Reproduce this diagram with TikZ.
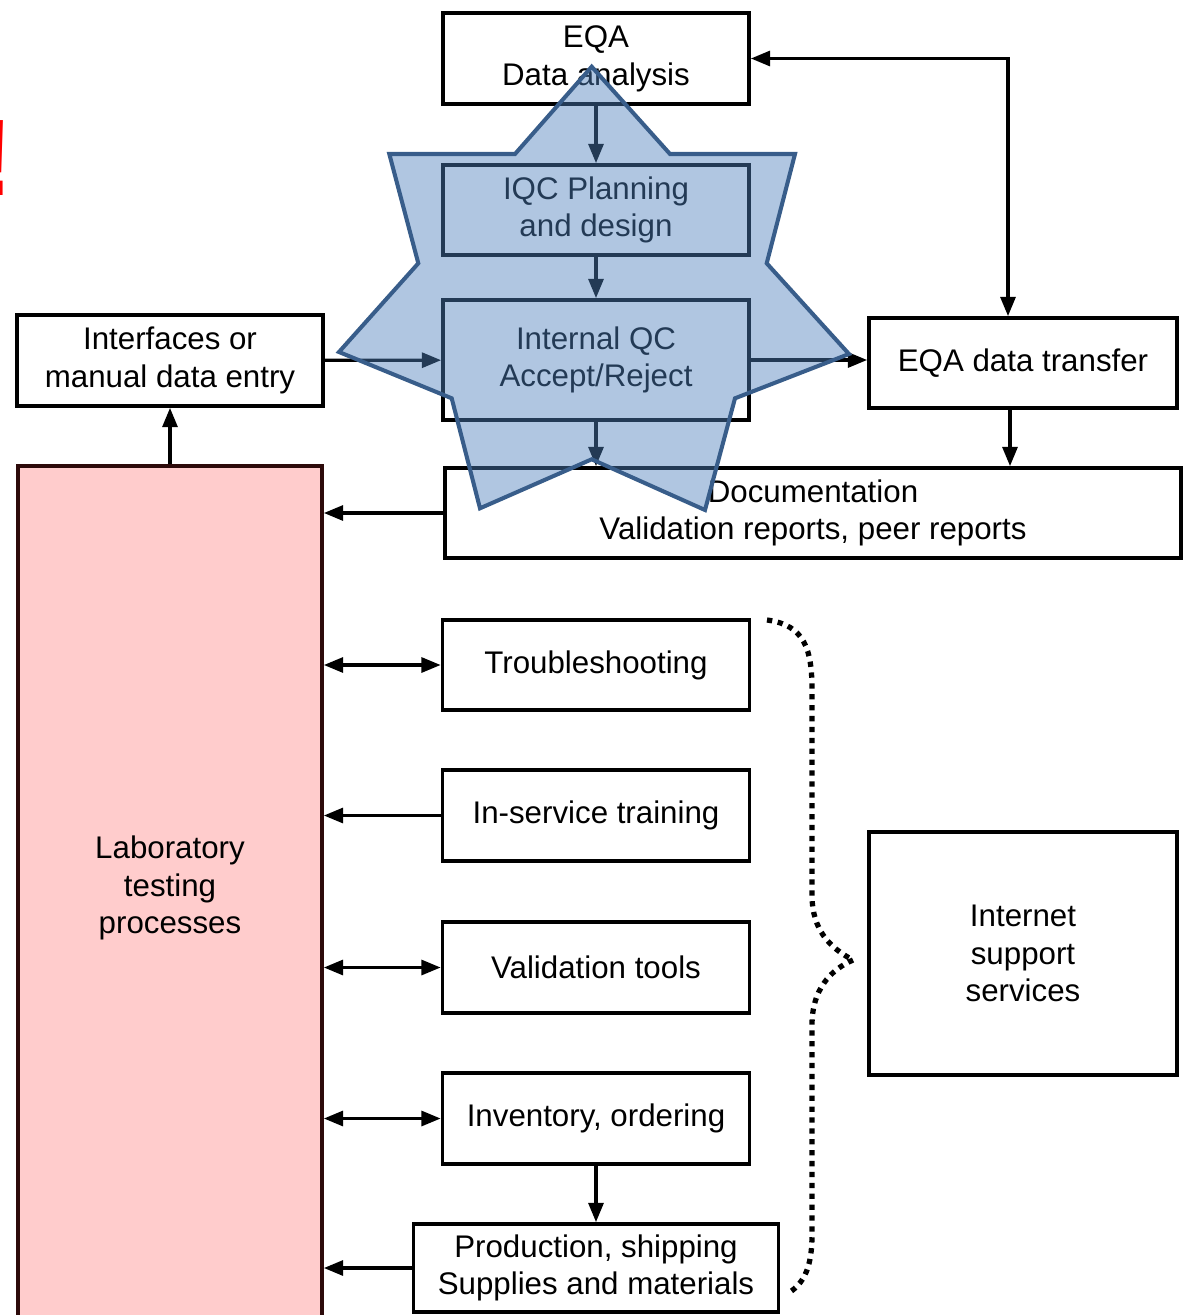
\documentclass[tikz,border=0pt]{standalone}
\usepackage{fontspec}
\setmainfont{Liberation Sans}
\usetikzlibrary{arrows.meta}

\definecolor{labpink}{RGB}{255,204,204}
\definecolor{labedge}{RGB}{45,10,10}
\definecolor{starfill}{RGB}{79,129,189}
\definecolor{staredge}{RGB}{56,93,138}

\begin{document}
\begin{tikzpicture}[
    x = 0.02cm, y = -0.02cm,
    > = {Triangle[length = 11pt, width = 8.5pt]},
    box/.style = {draw, line width = 2.1pt, align = center, inner sep = 0pt, font = \fontsize{17.8}{21.5}\selectfont, minimum width = 6.12cm, minimum height = 1.82cm},
    labbox/.style = {box, draw = labedge, fill = labpink, minimum width = 6.08cm, minimum height = 17.28cm, text depth = 15pt},
    link/.style = {line width = 1.9pt},
    starshape/.style = {draw = staredge, line width = 2.3pt, fill = starfill, fill opacity = 0.45, line join = miter},
    bracket/.style = {line width = 3pt, dash pattern = on 3pt off 3.2pt},
    alertmark/.style = {anchor = base west, inner sep = 0pt, text = red, font = \fontsize{62}{62}\selectfont\bfseries},
    ]
    \useasboundingbox (0, 0) rectangle (1188, 1315);

    \node[box] (eqa) at (596, 58.5) {EQA\\Data analysis};
    \node[box, minimum height = 1.8cm] (iqc) at (596, 210) {IQC Planning\\and design};
    \node[box, minimum height = 2.4cm] (intqc) at (596, 360) {Internal QC\\Accept/Reject};
    \node[box] (iface) at (170, 360.5) {Interfaces or\\manual data entry};
    \node[box, minimum width = 6.16cm, minimum height = 1.8cm] (transfer) at (1023, 363) {EQA data transfer};
    \node[box, minimum width = 14.72cm, minimum height = 1.8cm] (doc) at (813, 513) {Documentation\\Validation reports, peer reports};

    \node[labbox] (lab) at (170, 898) {Laboratory\\testing\\processes};

    \node[box, minimum width = 6.14cm, minimum height = 1.8cm] (trouble) at (596, 665) {Troubleshooting};
    \node[box, minimum width = 6.14cm] (training) at (596, 815.5) {In-service training};
    \node[box, minimum width = 6.14cm] (valid) at (596, 967.5) {Validation tools};
    \node[box, minimum width = 6.14cm] (inventory) at (596, 1118.5) {Inventory, ordering};
    \node[box, minimum width = 7.3cm, minimum height = 1.76cm] (production) at (596, 1268) {Production, shipping\\Supplies and materials};
    \node[box, minimum width = 6.16cm, minimum height = 4.86cm] (internet) at (1023, 953.5) {Internet\\support\\services};

    \path[->, link] (eqa) edge (iqc);
    \path[->, link] (iqc) edge (intqc);
    \path[->, link] (iface) edge (intqc);
    \path[->, link] (intqc.east) edge (intqc.east -| transfer.west);
    \path[->, link] (intqc.south) edge (intqc.south |- doc.north);
    \path[->, link] ([xshift = -0.26cm]transfer.south) edge ([xshift = -0.26cm]transfer.south |- doc.north);
    \draw[<->, link] (eqa.east) -| ([xshift = -0.3cm]transfer.north);

    \path[->, link] (doc.west) edge (doc.west -| lab.east);
    \path[->, link] (lab) edge (iface);
    \path[<->, link] (trouble.west) edge (trouble.west -| lab.east);
    \path[->, link] (training.west) edge (training.west -| lab.east);
    \path[<->, link] (valid.west) edge (valid.west -| lab.east);
    \path[<->, link] (inventory.west) edge (inventory.west -| lab.east);
    \path[->, link] (inventory) edge (production);
    \path[->, link] (production.west) edge (production.west -| lab.east);

    % seven pointed star on top
    \draw[starshape] (591.7, 66.7) -- (670, 154) -- (795, 154) -- (766.7, 263.3) -- (849, 354) -- (735, 398.3) -- (705, 510)
        -- (591.7, 459.3) -- (480, 508.3) -- (451.7, 398.3) -- (339, 352) -- (418.3, 263.3) -- (389.3, 154) -- (515, 154) -- cycle;

    % dotted brace
    \coordinate (bracetip) at (853, 960);
    \draw[bracket] (767, 620) .. controls (805, 625) and (812, 650) .. (812, 690) -- (812, 895)
        .. controls (812, 930) and (830, 948) .. (bracetip);
    \draw[bracket] (bracetip) .. controls (830, 970) and (812, 990) .. (812, 1025) -- (812, 1235)
        .. controls (812, 1265) and (805, 1282) .. (790, 1292);

    \node[alertmark] (alert) at (-23, 195) {!};
\end{tikzpicture}
\end{document}
